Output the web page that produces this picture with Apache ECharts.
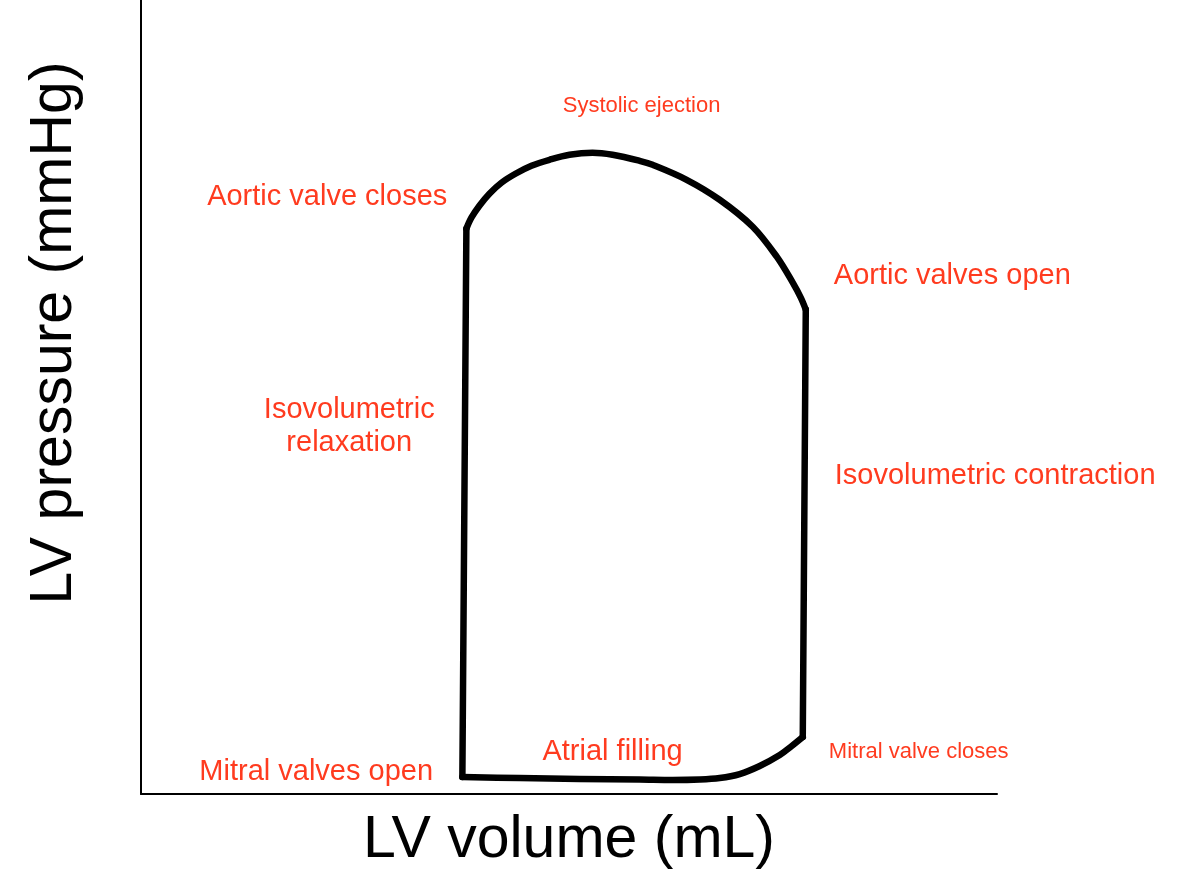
<!DOCTYPE html>
<html>
<head>
<meta charset="utf-8">
<title>LV pressure-volume loop</title>
<script src="https://cdn.jsdelivr.net/npm/echarts@6/dist/echarts.min.js"></script>
<style>
  html, body { margin: 0; padding: 0; background: #ffffff; }
  #chart { width: 1178px; height: 876px; }
</style>
</head>
<body>
<div id="chart"></div>
<script>
// Pressure-volume loop of the left ventricle, traced from mitral opening
// along filling, isovolumetric contraction, ejection and relaxation.
const loopVolume = [
  64.2, 75.6, 87.6, 99.6, 106.2, 111.6, 115.6, 119.6, 123.6, 127.6, 130.0, 132.2,
  132.8, 131.8, 130.2, 127.0, 122.2, 115.6, 109.0, 102.2, 99.6, 94.2, 90.2, 85.6,
  81.6, 78.0, 74.8, 72.0, 69.6, 67.6, 66.0, 65.0, 64.2
];
const loopPressure = [
  3.4, 3.2, 3.0, 2.9, 2.8, 2.9, 3.2, 4.0, 5.6, 7.8, 9.6, 11.4,
  97.0, 99.4, 102.4, 107.6, 113.6, 119.0, 123.0, 126.0, 126.8, 128.0, 128.4, 128.0,
  127.0, 125.8, 124.2, 122.4, 120.2, 117.8, 115.4, 113.2, 3.4
];
// Index ranges of the four phases within the loop arrays [start, end, curved]
const loopPhases = [
  [0, 11, true],   // filling
  [11, 12, false], // isovolumetric contraction
  [12, 31, true],  // ejection
  [31, 32, false]  // isovolumetric relaxation
];

// Phase annotations, anchored in volume / pressure units
const phaseNames = [
  'Systolic ejection', 'Aortic valve closes', 'Aortic valves open',
  'Isovolumetric\nrelaxation', 'Isovolumetric contraction', 'Atrial filling',
  'Mitral valves open', 'Mitral valve closes'
];
const phaseVolume = [100.0, 37.2, 138.4, 41.6, 138.6, 94.2, 35.0, 137.4];
const phasePressure = [137.8, 119.6, 103.8, 73.6, 63.6, 8.4, 4.4, 8.4];

const axisTitles = { x: 'LV volume (mL)', y: 'LV pressure (mmHg)' };

const red = '#ff3b1f';
const labelFont = 'Liberation Sans, Arial, Helvetica, sans-serif';
const smallLabels = ['Systolic ejection', 'Mitral valve closes'];
const leftAligned = ['Aortic valves open', 'Isovolumetric contraction', 'Mitral valve closes'];

const loopPoints = loopVolume.map((v, i) => [v, loopPressure[i]]);
const loopSeries = loopPhases.map(([a, b, curved]) => ({
  type: 'line',
  data: loopPoints.slice(a, b + 1),
  showSymbol: false,
  smooth: curved ? 0.35 : false,
  lineStyle: { color: '#000', width: 6.5, join: 'round', cap: 'round', opacity: 1 },
  z: 2
}));

const phaseData = phaseNames.map((name, i) => ({
  value: [phaseVolume[i], phasePressure[i]],
  name: name,
  label: {
    align: leftAligned.includes(name) ? 'left' : 'center',
    fontSize: smallLabels.includes(name) ? 22 : 29,
    lineHeight: 33
  }
}));

const chart = echarts.init(document.getElementById('chart'), null, { renderer: 'canvas' });
chart.setOption({
  backgroundColor: '#ffffff',
  animation: false,
  grid: { left: 141, right: 181, top: 0, bottom: 82 },
  xAxis: {
    type: 'value', min: 0, max: 171,
    name: axisTitles.x, nameLocation: 'middle', nameGap: 17,
    nameTextStyle: { fontSize: 59, color: '#000', fontFamily: labelFont },
    axisLine: { show: true, onZero: false, lineStyle: { color: '#000', width: 2 } },
    axisTick: { show: false }, axisLabel: { show: false }, splitLine: { show: false }
  },
  yAxis: {
    type: 'value', min: 0, max: 159,
    name: axisTitles.y, nameLocation: 'middle', nameGap: 57,
    nameTextStyle: { fontSize: 59, color: '#000', fontFamily: labelFont, padding: [0, 0, 0, 128] },
    axisLine: { show: true, onZero: false, lineStyle: { color: '#000', width: 2 } },
    axisTick: { show: false }, axisLabel: { show: false }, splitLine: { show: false }
  },
  series: loopSeries.concat([
    {
      type: 'scatter',
      data: phaseData,
      symbolSize: 0,
      silent: true,
      itemStyle: { opacity: 1 },
      label: {
        show: true,
        position: 'inside',
        verticalAlign: 'middle',
        color: red,
        opacity: 1,
        fontFamily: labelFont,
        formatter: p => p.name
      },
      z: 3
    }
  ])
});
</script>
</body>
</html>
